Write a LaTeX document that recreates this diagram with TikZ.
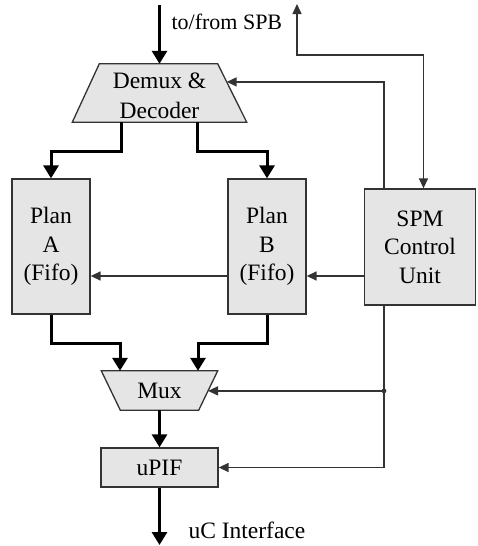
\documentclass[tikz,border=0pt]{standalone}
\usepackage{fontspec}
\setmainfont{Liberation Serif}
\usetikzlibrary{arrows.meta,calc,backgrounds}

\begin{document}
\begin{tikzpicture}[x=1pt,y=-1pt,
  txt/.style={font=\fontsize{23.5}{28.5}\selectfont},
  block/.style={draw=black!80, fill=black!10, line width=1.3pt, align=center, txt, inner sep=0pt},
  ghost/.style={align=center, txt, inner sep=0pt},
  bus/.style={line width=3pt, -{Triangle[length=13pt,width=15pt]}},
  ctl/.style={line width=1.4pt, draw=black!80, -{Triangle[length=10pt,width=9pt]}},
  ctlboth/.style={line width=1.4pt, draw=black!80, {Triangle[length=10pt,width=9pt]}-{Triangle[length=10pt,width=9pt]}},
]
\useasboundingbox (0,0) rectangle (477,546);

% blocks
\node[ghost, minimum width=174pt, minimum height=58pt] (demux) at (159.5,93) {};
\node[txt, align=center, font=\fontsize{23.5}{30}\selectfont, inner sep=0pt] (demuxtxt) at (159.5,96) {Demux \&\\Decoder};
\node[block, minimum width=78pt, minimum height=135pt] (planA) at (51,246.5) {Plan\\A\\(Fifo)};
\node[block, minimum width=78pt, minimum height=135pt] (planB) at (267,246.5) {Plan\\B\\(Fifo)};
\node[block, minimum width=111pt, minimum height=116pt] (spm) at (420,247) {SPM\\Control\\Unit};
\node[ghost, minimum width=116pt, minimum height=39pt] (mux) at (159.5,390.5) {Mux};
\node[block, minimum width=117pt, minimum height=39pt] (upif) at (159.5,467.5) {uPIF};

% trapezoid outlines behind the demux and mux labels
\begin{scope}[on background layer]
  \draw[block] (demux.south west) -- ($(demux.north west)+(27,0)$) coordinate (dmxtl)
     -- ($(demux.north east)+(-29,0)$) coordinate (dmxtr) -- (demux.south east) -- cycle;
  \draw[block] (mux.north west) -- (mux.north east) -- ($(mux.south east)+(-19,0)$) coordinate (muxbr)
     -- ($(mux.south west)+(19,0)$) -- cycle;
\end{scope}
\coordinate (dmxin) at ($(dmxtr)!0.31!(demux.south east)$);
\coordinate (muxin) at ($(mux.north east)!0.51!(muxbr)$);

% external ports
\coordinate (spbtop) at (159.5,5);
\coordinate (spbup) at (297,4);
\coordinate (uc) at (159.5,545);
\node[anchor=west, font=\fontsize{22}{25}\selectfont] (spblabel) at (168,22) {to/from SPB};
\node[anchor=west, txt] (uclabel) at (185,530) {uC Interface};

% data path
\draw[bus] (spbtop) -- (demux.north);
\draw[bus] ($(demux.south)+(-38.5,0)$) -- ++(0,29) -| (planA.north);
\draw[bus] ($(demux.south)+(37.5,0)$) -- ++(0,29) -| (planB.north);
\draw[bus] (planA.south) -- ++(0,29) -| ($(mux.north)+(-39.5,0)$);
\draw[bus] (planB.south) -- ++(0,29) -| ($(mux.north)+(38.5,0)$);
\draw[bus] (mux.south) -- (upif.north);
\draw[bus] (upif.south) -- (uc);

% control signals
\draw[ctlboth] ($(spm.north)+(3.5,0)$) |- (297,55) -- (spbup);
\draw[ctl] ($(spm.north)+(-36,0)$) |- (dmxin);
\coordinate (ctly) at (0,276);
\draw[ctl] (spm.west |- ctly) -- (planB.east |- ctly);
\draw[ctl] (planB.west |- ctly) -- (planA.east |- ctly);
\coordinate (spmdn) at ($(spm.south)+(-36,0)$);
\draw[ctl] (spmdn) |- (upif.east);
\coordinate (tap) at (spmdn |- muxin);
\draw[ctl] (tap) -- (muxin);
\fill[black!80] (tap) circle (2.4);
\end{tikzpicture}
\end{document}
